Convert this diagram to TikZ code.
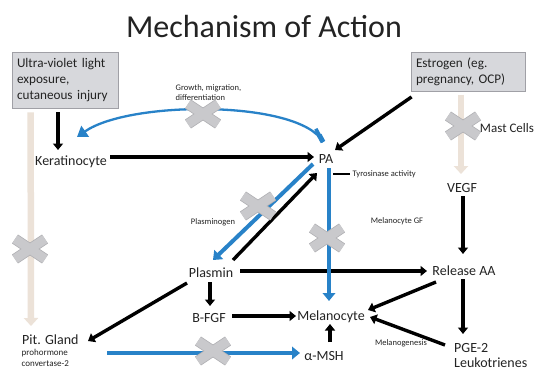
\documentclass[tikz,border=0pt]{standalone}
\usepackage{fontspec}
\setmainfont{Carlito}
\usetikzlibrary{arrows.meta,calc}

\definecolor{blueline}{RGB}{40,130,200}
\definecolor{beigeline}{RGB}{236,226,216}
\definecolor{boxfill}{RGB}{215,216,220}
\definecolor{boxdraw}{RGB}{160,160,166}
\definecolor{xfill}{RGB}{201,201,204}
\definecolor{xedge}{RGB}{176,176,180}
\definecolor{ink}{RGB}{35,35,35}

\tikzset{
  lbl/.style={anchor=base, inner sep=1pt, text=ink, font=\fontsize{14}{16}\selectfont},
  note/.style={anchor=base, inner sep=0.5pt, text=ink, font=\fontsize{8.5}{10}\selectfont},
  greybox/.style={draw=boxdraw, fill=boxfill, line width=0.8pt, align=left,
    text=ink, font=\fontsize{13.2}{16.2}\selectfont, inner xsep=5pt},
  blk/.style={draw=black, line width=3.4pt, -{Triangle[length=6.5pt,width=10pt]}},
  blu/.style={draw=blueline, line width=4pt, -{Triangle[length=8pt,width=12.5pt]}},
  beige/.style={draw=beigeline, line width=6.5pt, -{Triangle[length=8pt,width=14pt]}},
  tick/.style={draw=black, line width=2pt},
  blocked/.pic={
    \draw[xedge, line width=10.8pt] (-15,-10) -- (15,10) (-15,10) -- (15,-10);
    \draw[xfill, line width=9.2pt] (-15,-10) -- (15,10) (-15,10) -- (15,-10);
  }
}

\begin{document}
\begin{tikzpicture}[x=1pt, y=-1pt]
  \useasboundingbox[fill=white] (0,0) rectangle (541,370);

  % heading
  \node[anchor=base, text=ink, font=\fontsize{32}{38}\selectfont] (title) at (264,37) {Mechanism of Action};

  % trigger boxes
  \node[greybox, minimum width=106pt, minimum height=56pt, text width=96pt] (uv) at (65,80)
    {Ultra-violet light\\exposure,\\cutaneous injury};
  \node[greybox, minimum width=114pt, minimum height=39pt, text width=104pt] (est) at (468,71.5)
    {Estrogen (eg.\\pregnancy, OCP)};

  % main labels
  \node[lbl] (ker) at (71,165) {Keratinocyte};
  \node[lbl] (pa) at (326,163) {PA};
  \node[lbl, font=\fontsize{13}{15}\selectfont] (mast) at (507,132) {Mast Cells};
  \node[lbl] (vegf) at (462,192) {VEGF};
  \node[lbl] (plasmin) at (211,277) {Plasmin};
  \node[lbl] (release) at (464,275) {Release AA};
  \node[lbl] (bfgf) at (209,322) {B-FGF};
  \node[lbl] (melano) at (331,320) {Melanocyte};
  \node[lbl] (amsh) at (324,360) {α-MSH};
  \node[lbl, anchor=base west] (pit) at (21,344) {Pit. Gland};
  \node[lbl, anchor=base west] (pge) at (453,352) {PGE-2};
  \node[lbl, anchor=base west] (leuko) at (453,367) {Leukotrienes};

  % small annotations
  \node[note, anchor=base west, font=\fontsize{9}{11}\selectfont] (pro) at (21,355) {prohormone};
  \node[note, anchor=base west, font=\fontsize{9}{11}\selectfont] (conv) at (21,366) {convertase-2};
  \node[note, anchor=base west] (growth1) at (175,90.5) {Growth, migration,};
  \node[note, anchor=base west] (growth2) at (175,100.5) {differentiation};
  \node[note, anchor=base west] (tyro) at (352,176.5) {Tyrosinase activity};
  \node[note] (plgn) at (213,224.5) {Plasminogen};
  \node[note] (mgf) at (397,223.5) {Melanocyte GF};
  \node[note] (mgen) at (401,345.5) {Melanogenesis};

  % faint pathways
  \draw[beige] ($(uv.south west)+(19,4)$) -- ($(pit.base west)+(10,-18)$);
  \draw[beige] ($(est.south)+(-7,3.5)$) -- ($(vegf.base)+(-1,-18)$);

  % black pathways
  \draw[blk] ($(uv.south)+(-7,4)$) -- ($(ker.base)+(-13,-15)$);
  \draw[blk] ($(ker.base)+(39,-8)$) -- ($(pa.base)+(-12,-6)$);
  \draw[blk] ($(est.south west)+(1,5.5)$) -- ($(pa.base)+(9,-13)$);
  \draw[blk] ($(plasmin.base)+(22,-17)$) -- ($(pa.base)+(-9,10)$);
  \draw[blk] ($(vegf.base)+(1,4)$) -- ($(release.base)+(-1,-21)$);
  \draw[blk] ($(plasmin.base)+(29,-6)$) -- ($(release.base)+(-37,-4)$);
  \draw[blk] ($(plasmin.base)+(-1,5)$) -- ($(bfgf.base)+(1,-16)$);
  \draw[blk] ($(plasmin.base)+(-24,6)$) -- ($(pit.base west)+(67,-3)$);
  \draw[blk] ($(bfgf.base)+(23,-6)$) -- ($(melano.base)+(-35,-4)$);
  \draw[blk] ($(release.base)+(-28,7)$) -- ($(melano.base)+(37,-10)$);
  \draw[blk] ($(release.base)+(-1,4)$) -- ($(pge.base west)+(10,-18)$);
  \draw[blk] ($(pge.base west)+(-8,-7)$) -- ($(melano.base)+(39,-3)$);
  \draw[blk] ($(amsh.base)+(6,-18)$) -- ($(melano.base)+(-1,4)$);
  \draw[tick] ($(tyro.base west)+(-19,-2.5)$) -- ($(tyro.base west)+(-2,-2.5)$);

  % blue pathways
  \draw[blu] ($(pa.base)+(-13,1)$) -- ($(plasmin.base)+(2,-17)$);
  \draw[blu] ($(pa.base)+(3,5)$) -- ($(melano.base)+(-2,-19)$);
  \draw[blu] ($(pit.base west)+(86,9)$) -- ($(amsh.base)+(-24,-7)$);
  \coordinate (curveA) at ($(pa.base)+(-3,-21)$);
  \coordinate (curveB) at ($(ker.base)+(6,-28)$);
  \draw[blueline, line width=2.3pt, -{Triangle[length=10pt,width=13pt]}]
    (curveA) .. controls (300,100) and (130,100) .. (curveB);
  \draw[blueline, line width=5pt] (curveA) -- ++(-3.8,-7);
  \draw[blueline, line width=3.6pt] (curveA) -- ++(-7.2,-13.2);

  % blocked pathways
  \pic at (203,114) {blocked};
  \pic at (30,249) {blocked};
  \pic at (463,126) {blocked};
  \pic at (258,206) {blocked};
  \pic at (327,238) {blocked};
  \pic at (213,351) {blocked};
\end{tikzpicture}
\end{document}
